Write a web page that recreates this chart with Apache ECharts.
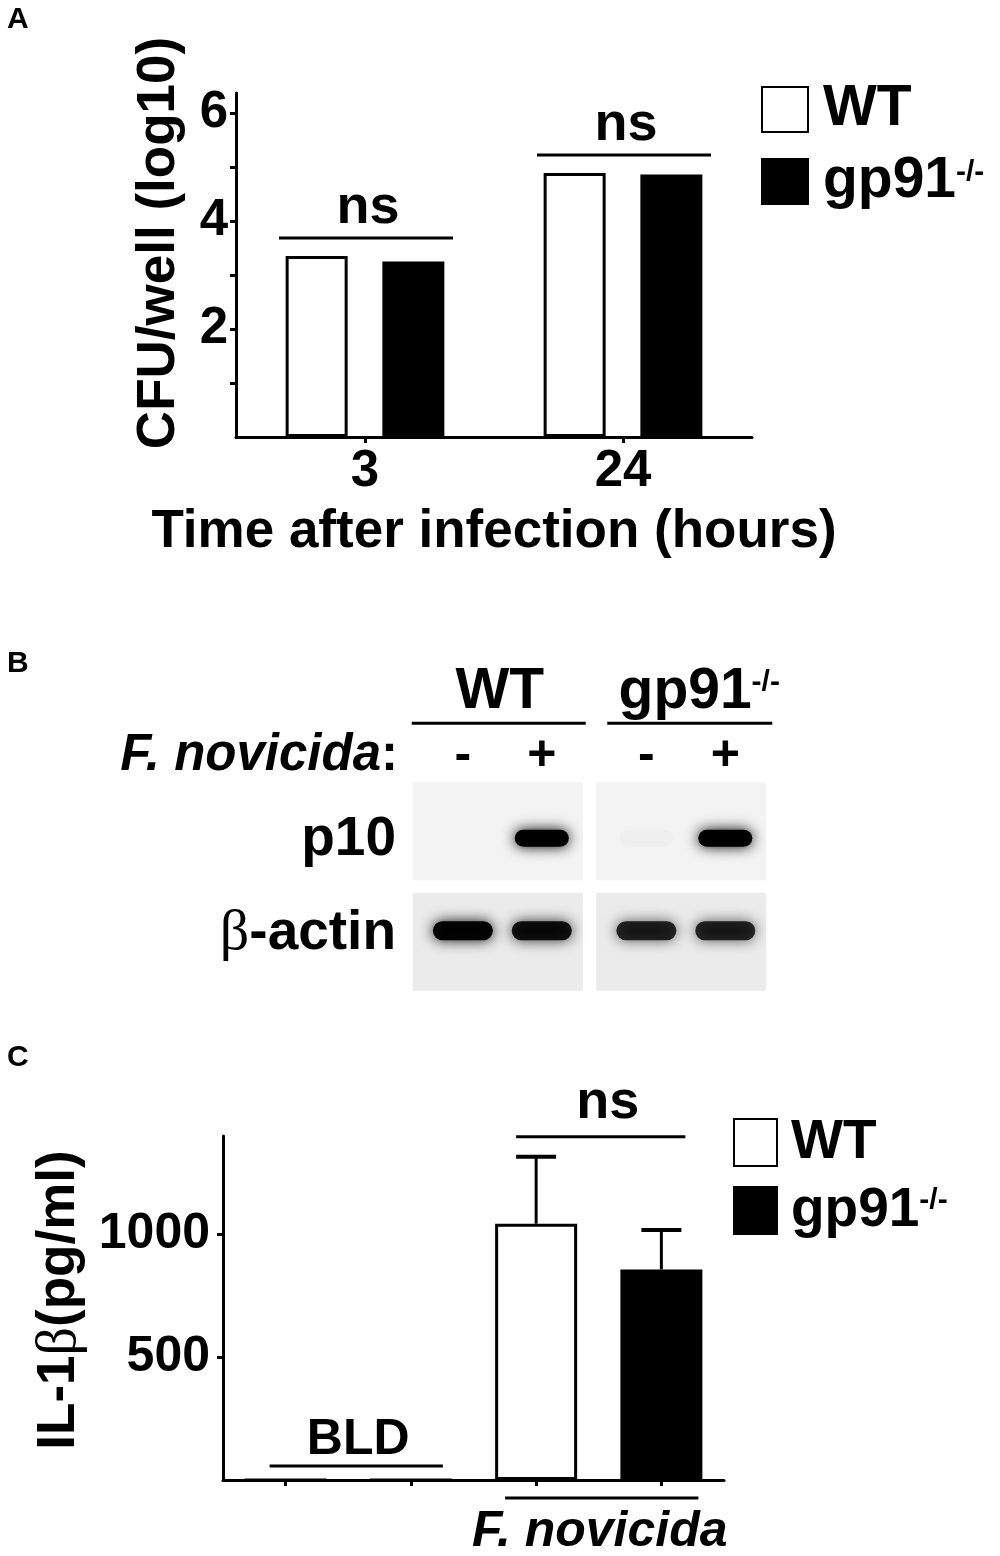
<!DOCTYPE html>
<html><head><meta charset="utf-8">
<script src="https://cdn.jsdelivr.net/npm/echarts@6/dist/echarts.min.js"></script>
<style>html,body{margin:0;padding:0;background:#fff}#c{width:1000px;height:1556px}</style>
</head><body><div id="c"></div>
<script>
// ---------- Panel A data ----------
const timeCategories = ['3', '24'];
const cfuWT = [3.35, 4.89];
const cfuGp91 = [3.25, 4.86];
const cfuTickValues = [1, 2, 3, 4, 5, 6];
const cfuLabelValues = [2, 4, 6];
const cfuSignif = ['ns', 'ns'];

// ---------- Panel B data (band intensity 0..1) ----------
const blotGenotypes = ['WT', 'gp91'];
const blotTreatments = ['-', '+'];
const blotProteins = ['p10', 'β-actin'];
const p10Intensity = [[0.0, 1.0], [0.015, 1.0]];     // [genotype][treatment]
const actinIntensity = [[0.97, 0.9], [0.8, 0.8]];    // [genotype][treatment]

// ---------- Panel C data ----------
const il1bCategories = ['WT -', 'gp91 -', 'WT F. novicida', 'gp91 F. novicida'];
const il1bWT = [0, null, 1043, null];
const il1bGp91 = [null, 0, null, 857];
const il1bErrWT = [0, null, 273, null];
const il1bErrGp91 = [null, 0, null, 160];
const il1bTickValues = [500, 1000];
const il1bSignif = 'ns';
const il1bBelowDetection = 'BLD';
const infectionLabel = 'F. novicida';

// ---------- styling ----------
const F = '"Liberation Sans", Arial, Helvetica, sans-serif';
const K = '#000';
const whiteBar = {color: '#fff', borderColor: K, borderWidth: 3};
const blackBar = {color: K, borderColor: K, borderWidth: 3};
const axLine = {show: true, onZero: false, lineStyle: {color: K, width: 3}};

function legendRich(size, lh, supLh) {
  return {
    n: {fontFamily: F, fontWeight: 'bold', fontSize: size, lineHeight: lh, color: K},
    s: {fontFamily: F, fontWeight: 'bold', fontSize: 30, lineHeight: supLh, verticalAlign: 'top', color: K}
  };
}
const legendFmt = n => n === 'gp91' ? '{n|gp91}{s|-/-}' : '{n|' + n + '}';

// custom data
const membraneData = [];
blotProteins.forEach((p, pi) => blotGenotypes.forEach((g, gi) => membraneData.push([gi, pi])));
const bandData = [];
blotGenotypes.forEach((g, gi) => blotTreatments.forEach((t, ti) => {
  bandData.push([gi, 0, ti, p10Intensity[gi][ti]]);
  bandData.push([gi, 1, ti, actinIntensity[gi][ti]]);
}));
const errData = [];
il1bWT.forEach((v, i) => { if (v != null && il1bErrWT[i] > 0) errData.push([i, v, il1bErrWT[i]]); });
il1bGp91.forEach((v, i) => { if (v != null && il1bErrGp91[i] > 0) errData.push([i, v, il1bErrGp91[i]]); });

const laneFrac = [-0.19, 0.24];
const rowShift = [7, -11];

const chart = echarts.init(document.getElementById('c'), null, {renderer: 'canvas', width: 1000, height: 1556});

const catTick = {show: true, alignWithLabel: true, inside: false, length: 6, lineStyle: {color: K, width: 3}};

const option = {
  animation: false,
  backgroundColor: '#fff',
  textStyle: {fontFamily: F, fontWeight: 'bold', color: K},
  grid: [
    {left: 236, top: 93, width: 516, height: 344},
    {left: 406, top: 776, width: 367, height: 221},
    {left: 223, top: 1136, width: 501, height: 344}
  ],
  legend: [
    {data: ['WT', 'gp91'], orient: 'vertical', left: 761, top: 81, padding: 0,
     itemWidth: 46, itemHeight: 45, itemGap: 15, icon: 'rect', selectedMode: false,
     formatter: legendFmt,
     textStyle: {padding: [0, 0, 0, 10], rich: legendRich(57, 48, 22)}},
    {data: ['WT', 'gp91'], orient: 'vertical', left: 733, top: 1115, padding: 0,
     itemWidth: 43, itemHeight: 47, itemGap: 13, icon: 'rect', selectedMode: false,
     formatter: legendFmt,
     textStyle: {padding: [0, 0, 0, 9], rich: legendRich(55, 50, 24)}}
  ],
  xAxis: [
    {gridIndex: 0, type: 'category', data: timeCategories, axisLine: axLine, axisTick: catTick,
     axisLabel: {fontFamily: F, fontWeight: 'bold', fontSize: 51, color: K, margin: 9},
     name: 'Time after infection (hours)', nameLocation: 'middle', nameGap: 69,
     nameTextStyle: {fontFamily: F, fontWeight: 'bold', fontSize: 53, color: K}},
    {gridIndex: 1, type: 'category', data: blotGenotypes, show: false},
    {gridIndex: 2, type: 'category', data: il1bCategories, axisLine: axLine, axisTick: catTick,
     axisLabel: {show: true, formatter: () => '', margin: 2}}
  ],
  yAxis: [
    {gridIndex: 0, type: 'value', min: 0, max: 6.37, axisLine: axLine, splitLine: {show: false},
     axisTick: {show: true, length: 6, lineStyle: {color: K, width: 3}, customValues: cfuTickValues},
     axisLabel: {fontFamily: F, fontWeight: 'bold', fontSize: 51, color: K, margin: 8, customValues: cfuLabelValues},
     name: 'CFU/well (log10)', nameLocation: 'middle', nameGap: 50,
     nameTextStyle: {fontFamily: F, fontWeight: 'bold', fontSize: 53, color: K, padding: [0, 0, 0, 44]}},
    {gridIndex: 1, type: 'category', data: blotProteins, inverse: true, show: false},
    {gridIndex: 2, type: 'value', min: 0, max: 1400, axisLine: axLine, splitLine: {show: false},
     axisTick: {show: true, length: 6, lineStyle: {color: K, width: 3}, customValues: il1bTickValues},
     axisLabel: {fontFamily: F, fontWeight: 'bold', fontSize: 50, color: K, margin: 13,
                 customValues: il1bTickValues, formatter: v => String(v)},
     name: '{n|IL-1}{b|β}{n|(pg/ml)}', nameLocation: 'middle', nameGap: 108,
     nameTextStyle: {padding: [0, 0, 0, 16], rich: {
       n: {fontFamily: F, fontWeight: 'bold', fontSize: 53, color: K},
       b: {fontFamily: '"Liberation Serif", serif', fontWeight: 'normal', fontSize: 56, color: K}}}}
  ],
  series: [
    {type: 'bar', name: 'WT', xAxisIndex: 0, yAxisIndex: 0, data: cfuWT, barWidth: 62, barGap: '56%', itemStyle: whiteBar},
    {type: 'bar', name: 'gp91', xAxisIndex: 0, yAxisIndex: 0, data: cfuGp91, barWidth: 62, barGap: '56%', itemStyle: blackBar},
    {type: 'custom', xAxisIndex: 1, yAxisIndex: 1, data: membraneData, silent: true,
     renderItem: (params, api) => {
       const c = api.coord([api.value(0), api.value(1)]);
       return {type: 'rect', shape: {x: c[0] - 85, y: c[1] - 49, width: 170, height: 98},
               style: {fill: api.value(1) === 0 ? '#f3f3f3' : '#ebebeb'}};
     }},
    {type: 'custom', xAxisIndex: 1, yAxisIndex: 1, data: bandData, silent: true,
     renderItem: (params, api) => {
       const g = api.value(0), p = api.value(1), t = api.value(2), a = api.value(3);
       const c = api.coord([g, p]);
       const s = api.size([1, 1]);
       const cx = c[0] + laneFrac[t] * s[0];
       const cy = c[1] + rowShift[p];
       const w = p === 0 ? 54 : 60, h = p === 0 ? 17 : 19;
       return {type: 'rect', shape: {x: cx - w / 2, y: cy - h / 2, width: w, height: h, r: h / 2},
               style: {fill: 'rgba(0,0,0,' + a + ')', shadowBlur: 14, shadowColor: 'rgba(0,0,0,' + a + ')'}};
     }},
    {type: 'bar', name: 'WT', xAxisIndex: 2, yAxisIndex: 2, data: il1bWT, barWidth: 82, barGap: '-100%', itemStyle: whiteBar},
    {type: 'bar', name: 'gp91', xAxisIndex: 2, yAxisIndex: 2, data: il1bGp91, barWidth: 82, barGap: '-100%', itemStyle: blackBar},
    {type: 'custom', xAxisIndex: 2, yAxisIndex: 2, data: errData, z: 3,
     renderItem: (params, api) => {
       const i = api.value(0), m = api.value(1), e = api.value(2);
       const p0 = api.coord([i, m]), p1 = api.coord([i, m + e]);
       return {type: 'group', children: [
         {type: 'line', shape: {x1: p0[0], y1: p0[1], x2: p1[0], y2: p1[1]}, style: {stroke: K, lineWidth: 3}},
         {type: 'line', shape: {x1: p1[0] - 20, y1: p1[1], x2: p1[0] + 20, y2: p1[1]}, style: {stroke: K, lineWidth: 4}}
       ]};
     }}
  ]
};
chart.setOption(option);

// ---------- annotations positioned through the axes ----------
const px = (grid, v) => chart.convertToPixel({gridIndex: grid}, v);
const G = [];
const line = (x1, y1, x2, y2, w) => G.push({type: 'line', silent: true, shape: {x1, y1, x2, y2}, style: {stroke: K, lineWidth: w || 3}});
const text = (x, y, str, size, opt) => G.push({type: 'text', silent: true, x, y, style: Object.assign({
  text: str, fontFamily: F, fontWeight: 'bold', fontSize: size, fill: K, align: 'center', verticalAlign: 'middle'}, opt || {})});

// panel letters
text(7, 20, 'A', 30, {align: 'left'});
text(7, 664, 'B', 30, {align: 'left'});
text(7, 1058, 'C', 30, {align: 'left'});

// Panel A significance brackets
timeCategories.forEach((c, i) => {
  const top = px(0, [i, Math.max(cfuWT[i], cfuGp91[i])]);
  const y = top[1] - 18;
  line(top[0] - 86, y, top[0] + 88, y);
  text(top[0] + 3, y - 30, cfuSignif[i], 54);
});

// Panel B labels
const m0 = px(1, [0, 0]), m1 = px(1, [1, 0]), r1 = px(1, [0, 1]);
const bw = 183.5;
const headY = m0[1] - 49 - 59;
text(m0[0] + 2, headY - 31, blotGenotypes[0], 57);
G.push({type: 'text', silent: true, x: m1[0] + 18, y: headY - 31, style: {
  text: '{n|gp91}{s|-/-}', align: 'center', verticalAlign: 'middle', fill: K,
  rich: {n: {fontFamily: F, fontWeight: 'bold', fontSize: 57, lineHeight: 50, fill: K},
         s: {fontFamily: F, fontWeight: 'bold', fontSize: 30, lineHeight: 22, verticalAlign: 'top', fill: K}}}});
line(m0[0] - 86, headY, m0[0] + 88, headY);
line(m1[0] - 74, headY, m1[0] + 91, headY);
[m0, m1].forEach(m => blotTreatments.forEach((t, ti) => {
  text(m[0] + laneFrac[ti] * bw, headY + 33, t, 50);
}));
G.push({type: 'text', silent: true, x: 398, y: headY + 33, style: {
  text: '{i|F. novicida}{n|:}', align: 'right', verticalAlign: 'middle', fill: K,
  rich: {i: {fontFamily: F, fontWeight: 'bold', fontStyle: 'italic', fontSize: 51, fill: K},
         n: {fontFamily: F, fontWeight: 'bold', fontSize: 51, fill: K}}}});
text(396, m0[1] + 9, blotProteins[0], 55, {align: 'right'});
G.push({type: 'text', silent: true, x: 396, y: r1[1] - 8, style: {
  text: '{b|β}{n|-actin}', align: 'right', verticalAlign: 'middle', fill: K,
  rich: {b: {fontFamily: '"Liberation Serif", serif', fontWeight: 'normal', fontSize: 58, fill: K},
         n: {fontFamily: F, fontWeight: 'bold', fontSize: 55, fill: K}}}});

// Panel C annotations
const errTop = Math.max.apply(null, errData.map(d => d[1] + d[2]));
const c2 = px(2, [2, errTop]), c3 = px(2, [3, errTop]);
line(c2[0] - 20, c2[1] - 20, c3[0] + 24, c2[1] - 20);
text((c2[0] + c3[0]) / 2 + 9, c2[1] - 54, il1bSignif, 54);
const b0 = px(2, [0, 0]), b1 = px(2, [1, 0]);
line(b0[0] - 16, b0[1] - 14, b1[0] + 32, b0[1] - 14);
text((b0[0] + b1[0]) / 2 + 10, b0[1] - 40, il1bBelowDetection, 50);
const f2 = px(2, [2, 0]), f3 = px(2, [3, 0]);
line(f2[0] - 31, f2[1] + 18, f3[0] + 37, f2[1] + 18);
text((f2[0] + f3[0]) / 2 + 1, f2[1] + 52, infectionLabel, 50, {fontStyle: 'italic'});

chart.setOption({graphic: G});
</script>
</body></html>
